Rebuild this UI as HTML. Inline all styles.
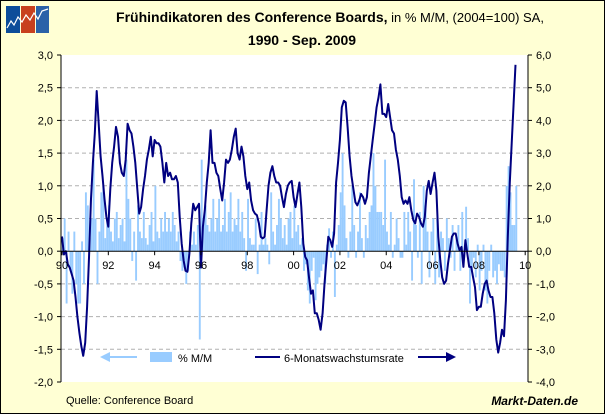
<!DOCTYPE html>
<html><head><meta charset="utf-8"><style>
body{margin:0;width:605px;height:414px;overflow:hidden;font-family:"Liberation Sans",sans-serif}
#wrap{position:absolute;left:0;top:0;width:603px;height:412px;border:1px solid #000;background:#ffffd4}
</style></head><body>
<div id="wrap">
<svg width="605" height="414" style="position:absolute;left:-1px;top:-1px">
<g>
<rect x="6" y="6" width="14" height="27" fill="#0d4d9a"/><rect x="21" y="6" width="14" height="27" fill="#c8401e"/><rect x="36" y="6" width="13" height="27" fill="#2b62a8"/>
<polyline points="7,28 11,21 14,25 18,17 22,22 26,15 30,20 34,13 38,19 42,11 48,9" fill="none" stroke="#fff" stroke-width="1.2"/>
</g>
<text x="330" y="22" text-anchor="middle" font-size="14" fill="#000"><tspan font-weight="bold">Frühindikatoren des Conference Boards,</tspan><tspan font-size="13"> in % M/M, (2004=100) SA,</tspan></text>
<text x="302" y="45" text-anchor="middle" font-size="14" font-weight="bold">1990 - Sep. 2009</text>
<rect x="61" y="55" width="467" height="327" fill="#ffffff"/>
<g id="grid"></g><g id="bars"></g><g id="line"></g><g id="axes"></g>
<g>
<line x1="106" y1="357" x2="137" y2="357" stroke="#99ccff" stroke-width="2"/><polygon points="100,357 110,352 110,362" fill="#99ccff"/>
<rect x="150" y="352" width="22" height="10" fill="#99ccff"/>
<text x="178" y="362" font-size="11">% M/M</text>
<line x1="255" y1="357" x2="280" y2="357" stroke="#000080" stroke-width="2"/>
<text x="284" y="362" font-size="11">6-Monatswachstumsrate</text>
<line x1="418" y1="357" x2="447" y2="357" stroke="#000080" stroke-width="2"/><polygon points="456,357 446,352 446,362" fill="#000080"/>
</g>
<text x="66" y="404" font-size="11">Quelle: Conference Board</text>
<text x="578" y="405" font-size="12" font-weight="bold" font-style="italic" text-anchor="end">Markt-Daten.de</text>
</svg></div>
<script>
const years=["90","92","94","96","98","00","02","04","06","08","10"];
const leftTicks=["-2,0","-1,5","-1,0","-0,5","0,0","0,5","1,0","1,5","2,0","2,5","3,0"];
const rightTicks=["-4,0","-3,0","-2,0","-1,0","0,0","1,0","2,0","3,0","4,0","5,0","6,0"];
const mom=[0.2,0.5,-0.8,0.3,-0.3,-0.65,0.3,-0.5,-0.8,-0.8,0.15,-0.5,
0.9,0.7,0.2,0.5,1.4,0.5,-0.5,0.3,0.9,1.0,0.2,0.5,
0.7,0.3,0.15,0.5,0.6,0.2,0.4,0.5,0.15,1.4,0.8,0.5,
-0.15,0.3,-0.45,0.7,0.3,0.2,0.6,0.2,0.1,0.4,0.6,0.15,
1.0,0.3,0.2,0.5,0.3,0.6,0.3,0.5,0.3,0.6,0.4,0.15,
0.3,-0.15,-0.3,-0.25,-0.5,-0.3,0.3,0.1,0.3,0.1,0.4,-1.35,
1.4,0.5,0.7,0.4,0.3,0.5,0.8,0.3,0.5,0.8,0.3,0.4,
0.8,0.3,0.6,0.9,0.3,0.5,0.4,0.8,0.3,0.6,0.2,-0.3,
0.8,0.2,0.1,0.1,0.5,-0.35,0.1,0.6,0.1,0.2,0.1,-0.2,
0.9,0.3,0.1,0.4,0.8,0.5,0.2,0.4,0.1,0.5,0.6,0.2,
0.7,0.3,0.4,0.1,0.2,-0.3,-0.2,-0.6,-0.8,-0.3,-0.1,-0.75,
-0.5,-0.4,-0.3,-0.2,-0.5,0.1,0.35,-0.1,0.3,-0.7,0.1,0.4,
0.9,1.5,0.7,0.2,-0.1,0.3,1.0,0.4,-0.1,0.3,0.9,0.2,
-0.1,0.4,0.2,0.6,0.7,1.5,1.0,0.6,0.6,0.6,0.4,1.4,
0.3,0.1,0.6,-0.1,0.1,0.5,0.2,-0.1,-0.1,0.6,0.1,0.6,
0.3,-0.45,1.1,0.4,-0.1,0.6,-0.5,1.0,0.7,0.3,-0.4,0.3,
0.5,-0.5,0.5,-0.4,0.3,0.2,-0.3,0.5,0.2,-0.1,0.4,-0.3,
0.2,0.4,-0.3,0.6,-0.1,0.68,0.2,-0.8,-0.3,-0.1,-0.4,0.1,
-0.6,-0.3,0.1,-0.6,-0.8,-0.3,0.1,-0.4,-0.3,-0.5,-0.2,-0.3,
-0.3,-0.4,1.0,1.3,0.9,0.4,0.4,1.0];
const growth6=[0.45,-0.1,0,-0.4,-0.5,-0.7,-0.9,-1.4,-2,-2.5,
-2.9,-3.2,-2.8,-1.7,-0.2,1.6,2.7,3.6,4.9,3.9,
2.9,2.3,1.6,1.05,0.75,1.9,2.7,3.2,3.8,3.5,
2.7,2.4,2.3,2.8,3.9,3.7,3.6,3.2,2.7,1.9,
1.15,1.35,1.9,2.3,2.8,3.1,3.5,2.9,3.4,3.3,3.3,
3.2,2.7,2.1,2.7,2.3,2.4,2.2,2.2,2.3,2.1,1.05,
0.23,-0.28,-0.6,-0.63,-0.07,0.85,1.45,1.25,1.35,1.45,
-0.5,0.75,1.25,2.1,2.7,3.7,2.7,
2.7,2.4,2.3,1.9,1.55,2.1,2.8,2.7,2.8,3.1,3.5,3.75,3.0,2.8,3.2,2.9,2.3,1.9,2.1,1.55,
1.25,1.15,1.1,0.85,0.44,0.39,0.44,1.25,2.0,2.4,2.6,2.3,2.1,2.1,2.0,1.65,1.35,1.75,2.0,2.1,
2.15,1.65,1.35,1.75,2.1,1.35,0.23,-0.17,-0.28,-0.8,-1.3,-1.2,-1.9,-1.9,-2.1,-2.4,-1.9,-1.0,-0.28,0.44,
0.34,0.13,0.54,2.1,2.7,3.4,4.4,4.6,4.55,3.8,2.9,2.3,1.9,1.5,1.4,1.55,1.75,1.65,
1.45,1.65,2.4,2.9,3.4,3.9,4.4,4.7,5.1,4.2,4.2,4.1,4.5,4.1,3.7,3.6,3.1,2.8,2.3,1.65,
1.45,1.55,1.45,1.65,1.25,0.95,0.85,1.15,1.05,0.85,0.75,1.05,1.85,2.15,1.75,2.1,2.4,1.85,0.44,-0.28,
-0.8,-1.0,-0.9,-0.38,0.03,0.44,0.54,0.54,0.23,0.03,0.13,-0.48,0.34,-0.07,-0.48,-0.48,-0.8,-1.1,-1.8,-1.7,
-1.7,-1.3,-1.0,-0.9,-1.2,-1.4,-1.4,-1.9,-2.7,-3.1,-2.8,-2.4,-2.6,-1.5,0.44,2.1,3.3,4.5,5.7];
const NS="http://www.w3.org/2000/svg";
const X0=62,DX=1.93,TOP=55,BOT=382;
const xm=m=>X0+DX*m;
const yL=v=>TOP+(3-v)/5*(BOT-TOP);
const yR=v=>TOP+(6-v)/10*(BOT-TOP);
function mk(t,a,p){const e=document.createElementNS(NS,t);for(const k in a)e.setAttribute(k,a[k]);p.appendChild(e);return e;}
const grid=document.getElementById('grid'),bars=document.getElementById('bars'),line=document.getElementById('line'),axes=document.getElementById('axes');
leftTicks.forEach((t,i)=>{const v=-2+0.5*i,y=yL(v);
 if(i>0&&i<10&&v!==0){const g=mk('line',{x1:61,x2:528,y1:y,y2:y,stroke:'#b0b0b0','stroke-dasharray':'4,3'},grid);
 
 }
 mk('line',{x1:57,x2:61,y1:y,y2:y,stroke:'#000'},axes);
 const tl=mk('text',{x:53,y:y+4,'text-anchor':'end','font-size':11},axes);tl.textContent=t;
 
 
 const yr=yR(-4+i);mk('line',{x1:528,x2:532,y1:yr,y2:yr,stroke:'#000'},axes);
 const tr=mk('text',{x:536,y:yr+4,'font-size':11},axes);tr.textContent=rightTicks[i];
 
 });
mom.forEach((v,m)=>{const y0=yL(0),y=yL(v);const r=mk('rect',{x:xm(m)-0.2,y:Math.min(y,y0),width:1.9,height:Math.abs(y-y0),fill:'#99ccff'},bars);
 
 });
const pl=mk('polyline',{points:growth6.map((v,m)=>xm(m).toFixed(1)+','+yR(v).toFixed(1)).join(' '),fill:'none',stroke:'#000080','stroke-width':2,'stroke-linejoin':'round'},line);


mk('line',{x1:61,x2:61,y1:TOP,y2:BOT,stroke:'#000'},axes);
mk('line',{x1:528,x2:528,y1:TOP,y2:BOT,stroke:'#000'},axes);
mk('line',{x1:61,x2:528,y1:yL(0),y2:yL(0),stroke:'#000'},axes);
years.forEach((t,i)=>{const x=xm(24*i);mk('line',{x1:x,x2:x,y1:yL(0),y2:yL(0)+4,stroke:'#000'},axes);
 const tx=mk('text',{x:x,y:yL(0)+18,'text-anchor':'middle','font-size':11},axes);tx.textContent=t;
 
 });
</script></body></html>
